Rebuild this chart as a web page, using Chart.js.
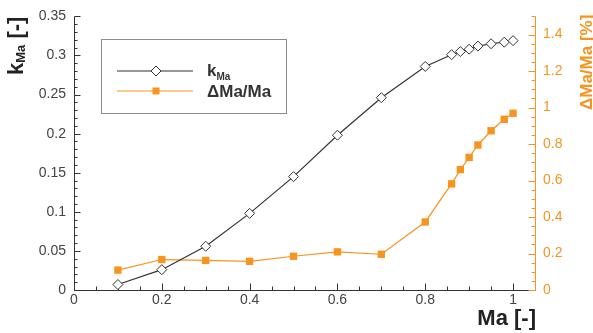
<!DOCTYPE html>
<html><head><meta charset="utf-8">
<script src="https://cdn.jsdelivr.net/npm/chart.js@4/dist/chart.umd.min.js"></script>
<style>html,body{margin:0;padding:0;background:#fff;overflow:hidden}#wrap{width:593px;height:333px}</style>
</head><body><div id="wrap"><canvas id="c" width="593" height="333"></canvas></div>
<script>
// ---- data ----
const machNumbers    = [0.1, 0.2, 0.3, 0.4, 0.5, 0.6, 0.7, 0.8, 0.86, 0.88, 0.9, 0.92, 0.95, 0.98, 1.0];
const kMaValues      = [0.007, 0.026, 0.056, 0.098, 0.145, 0.198, 0.246, 0.286, 0.301, 0.305, 0.308, 0.312, 0.315, 0.317, 0.319];
const deltaMaPercent = [0.109, 0.167, 0.162, 0.157, 0.185, 0.209, 0.196, 0.373, 0.582, 0.660, 0.727, 0.795, 0.873, 0.936, 0.969];
const xTickLabels     = [0, 0.2, 0.4, 0.6, 0.8, 1];
const leftTickLabels  = [0, 0.05, 0.1, 0.15, 0.2, 0.25, 0.3, 0.35];
const rightTickLabels = [0, 0.2, 0.4, 0.6, 0.8, 1, 1.2, 1.4];
const seriesNames = ['k', 'ΔMa/Ma'];

const ORANGE = '#F7941E';
const DARK = '#333333';
const FONT = "'Liberation Sans', Arial, Helvetica, sans-serif";
const fmt = v => String(Number(Number(v).toFixed(2)));

function line(ctx, x1, y1, x2, y2) { ctx.beginPath(); ctx.moveTo(x1, y1); ctx.lineTo(x2, y2); ctx.stroke(); }

const axesPlugin = {
  id: 'axesDraw',
  beforeDatasetsDraw(chart) {
    const { ctx, chartArea: a, scales } = chart;
    const x = scales.x, yl = scales.yL, yr = scales.yR;
    ctx.save();
    ctx.lineWidth = 1;
    ctx.strokeStyle = DARK;
    const L = Math.round(a.left) + 0.5, B = Math.round(a.bottom) + 0.5, R = Math.round(a.right) + 0.5;
    line(ctx, L, a.top, L, B);
    line(ctx, L, B, R, B);
    // left ticks (inward)
    for (let i = 0; i <= 35; i++) {
      const p = Math.round(yl.getPixelForValue(i / 100)) + 0.5;
      line(ctx, L, p, L + (i % 5 === 0 ? 6 : 3), p);
    }
    // bottom ticks
    for (let i = 0; i < 21; i++) {
      const p = Math.round(x.getPixelForValue(i * 0.05)) + 0.5;
      line(ctx, p, B, p, B - (i % 4 === 0 ? 7 : 4));
    }
    // right axis
    ctx.strokeStyle = ORANGE;
    line(ctx, R, a.top, R, B);
    for (let i = 0; i <= 30; i++) {
      const p = Math.round(yr.getPixelForValue(i * 0.05)) + 0.5;
      line(ctx, R, p, R - (i % 4 === 0 ? 7 : 4), p);
    }
    ctx.restore();
  },
  afterDraw(chart) {
    const { ctx } = chart;
    ctx.save();
    // left title: k_Ma [-]
    ctx.translate(23, 75);
    ctx.rotate(-Math.PI / 2);
    ctx.fillStyle = '#222';
    ctx.textBaseline = 'alphabetic';
    ctx.textAlign = 'left';
    ctx.font = 'bold 22px ' + FONT;
    ctx.fillText('k', 0, 0);
    let w = ctx.measureText('k').width;
    ctx.font = 'bold 13px ' + FONT;
    ctx.fillText('Ma', w, 2);
    w += ctx.measureText('Ma').width;
    ctx.font = 'bold 22px ' + FONT;
    ctx.fillText(' [-]', w, 0);
    ctx.restore();

    // right title
    ctx.save();
    ctx.translate(592, 110);
    ctx.rotate(-Math.PI / 2);
    ctx.fillStyle = ORANGE;
    ctx.font = 'bold 17px ' + FONT;
    ctx.textAlign = 'left';
    ctx.textBaseline = 'alphabetic';
    ctx.fillText('ΔMa/Ma [%]', 0, 0);
    ctx.restore();

    // x title
    ctx.save();
    ctx.fillStyle = '#222';
    ctx.font = 'bold 22px ' + FONT;
    ctx.textAlign = 'right';
    ctx.textBaseline = 'alphabetic';
    ctx.fillText('Ma [-]', 536, 325);
    ctx.restore();

    // legend
    ctx.save();
    ctx.strokeStyle = '#8c8c8c';
    ctx.lineWidth = 1;
    ctx.strokeRect(101.5, 39.5, 185, 74);
    // row 1
    ctx.strokeStyle = DARK; ctx.lineWidth = 1.2;
    line(ctx, 117, 71, 193, 71);
    ctx.fillStyle = '#fff'; ctx.lineWidth = 1;
    ctx.beginPath(); ctx.moveTo(156, 66); ctx.lineTo(161, 71); ctx.lineTo(156, 76); ctx.lineTo(151, 71); ctx.closePath();
    ctx.fill(); ctx.stroke();
    // row 2
    ctx.strokeStyle = ORANGE; ctx.lineWidth = 1.2;
    line(ctx, 117, 91, 193, 91);
    ctx.fillStyle = ORANGE;
    ctx.fillRect(152.5, 87.5, 7, 7);
    // texts
    ctx.fillStyle = '#333';
    ctx.textAlign = 'left'; ctx.textBaseline = 'alphabetic';
    ctx.font = 'bold 17px ' + FONT;
    ctx.fillText(seriesNames[0], 207, 76);
    const kw = ctx.measureText(seriesNames[0]).width;
    ctx.font = 'bold 10px ' + FONT;
    ctx.fillText('Ma', 207 + kw, 80);
    ctx.font = 'bold 17px ' + FONT;
    ctx.fillText(seriesNames[1], 207, 97);
    ctx.restore();
  }
};

const tickFont = { family: FONT, size: 14 };

new Chart(document.getElementById('c'), {
  type: 'line',
  data: {
    datasets: [
      {
        label: 'kMa',
        data: machNumbers.map((m, i) => ({ x: m, y: kMaValues[i] })),
        yAxisID: 'yL',
        borderColor: DARK, borderWidth: 1.2,
        pointStyle: 'rectRot', pointRadius: 5,
        pointBackgroundColor: '#fff', pointBorderColor: DARK, pointBorderWidth: 1,
        tension: 0, clip: false
      },
      {
        label: 'ΔMa/Ma',
        data: machNumbers.map((m, i) => ({ x: m, y: deltaMaPercent[i] })),
        yAxisID: 'yR',
        borderColor: ORANGE, borderWidth: 1.2,
        pointStyle: 'rect', pointRadius: 5.2,
        pointBackgroundColor: ORANGE, pointBorderColor: ORANGE, pointBorderWidth: 0,
        tension: 0, clip: false
      }
    ]
  },
  options: {
    responsive: false, animation: false, devicePixelRatio: 1,
    layout: { padding: { top: 14, left: 0, right: 0, bottom: 0 } },
    plugins: { legend: { display: false }, tooltip: { enabled: false } },
    scales: {
      x: {
        type: 'linear', position: 'bottom', min: 0, max: 1.05,
        afterBuildTicks: s => { s.ticks = xTickLabels.map(v => ({ value: v })); },
        afterFit: s => { s.height = 43; },
        grid: { display: false, drawTicks: false }, border: { display: false },
        ticks: { font: tickFont, color: '#444', padding: 2, maxRotation: 0, autoSkip: false, callback: v => fmt(v) }
      },
      yL: {
        type: 'linear', position: 'left', min: 0, max: 0.35,
        afterBuildTicks: s => { s.ticks = leftTickLabels.map(v => ({ value: v })); },
        afterFit: s => { s.width = 74; },
        grid: { display: false, drawTicks: false }, border: { display: false },
        ticks: { font: tickFont, color: '#444', padding: 8, autoSkip: false, callback: v => fmt(v) }
      },
      yR: {
        type: 'linear', position: 'right', min: 0, max: 1.5,
        afterBuildTicks: s => { s.ticks = rightTickLabels.map(v => ({ value: v })); },
        afterFit: s => { s.width = 58; },
        grid: { display: false, drawTicks: false }, border: { display: false },
        ticks: { font: tickFont, color: ORANGE, padding: 8, autoSkip: false, callback: v => fmt(v) }
      }
    }
  },
  plugins: [axesPlugin]
});
</script>
</body></html>
